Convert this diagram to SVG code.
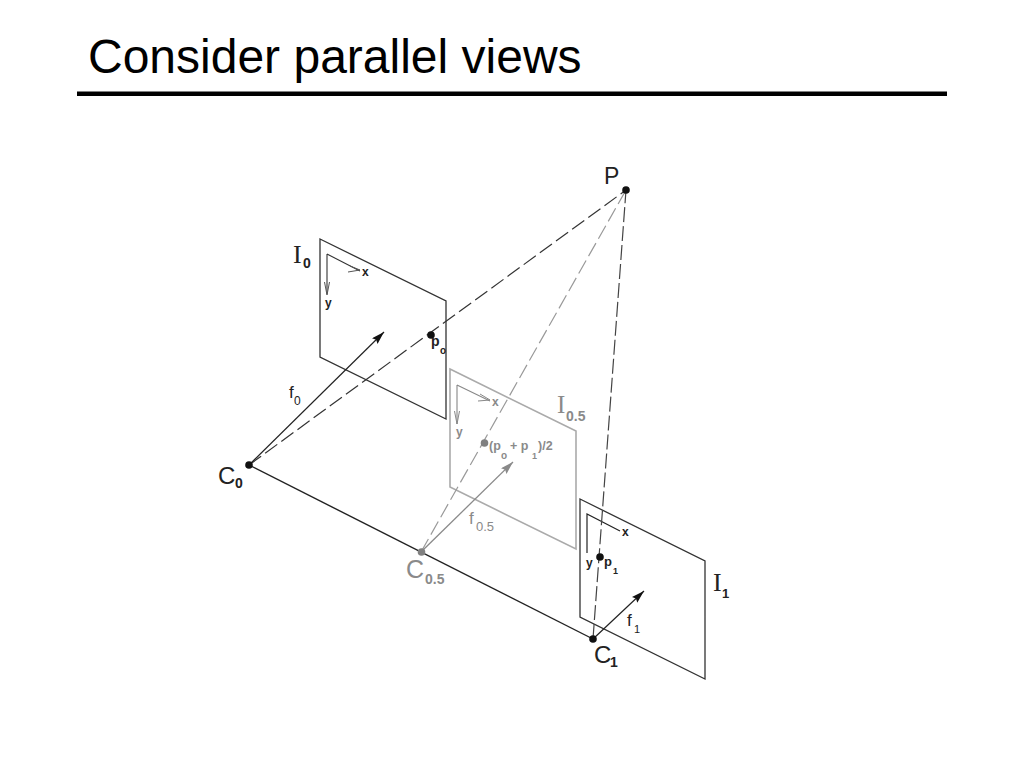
<svg xmlns="http://www.w3.org/2000/svg" width="1024" height="768" viewBox="0 0 1024 768">
<defs>
<marker id="solidK" markerUnits="userSpaceOnUse" markerWidth="14" markerHeight="10" refX="13" refY="4" orient="auto"><path d="M0 0L13 4L0 8L2 4Z" fill="#111"/></marker>
<marker id="solidG" markerUnits="userSpaceOnUse" markerWidth="14" markerHeight="10" refX="13" refY="4" orient="auto"><path d="M0 0L13 4L0 8L2 4Z" fill="#8a8a8a"/></marker>
</defs>
<style>
text{font-family:"Liberation Sans",Arial,sans-serif}
.s{font-family:"Liberation Serif","Times New Roman",serif}
.k{fill:#222}
.g{fill:#8a8a8a}
.b{font-weight:bold;font-size:12px}
.pk{fill:none;stroke:#333;stroke-width:1.3}
.pg{fill:none;stroke:#aaa;stroke-width:1.6}
</style>
<rect width="1024" height="768" fill="#fff"/>
<g id="title">
<text x="88" y="73" font-size="48" fill="#000">Consider parallel views</text>
<rect x="77" y="91.500" width="870" height="4.500" fill="#000"/>
</g>
<g id="plane-I05">
<path class="pg" d="M450 369L576 431V549L450 487Z"/>
<path d="M457 385V424M457 385L490 401" fill="none" stroke="#888" stroke-width="1.1"/>
<path d="M454.500 411L457 424L459.500 411M480 394L490 400L478 401" fill="none" stroke="#888"/>
<text class="b g" x="492" y="406">x</text>
<text class="b g" x="456" y="436">y</text>
<text class="s g" x="557" y="413" font-size="25">I</text>
<text class="g" x="566" y="421" font-size="14" font-weight="bold">0.5</text>
</g>
<g id="plane-I0">
<path class="pk" d="M320 239L446 301V419L320 357Z"/>
<path d="M327 254V294M327 254L360 271" fill="none" stroke="#333" stroke-width="1.1"/>
<path d="M324.500 282L327 295L329.500 282M350 266L360 270L348 272" fill="none" stroke="#555"/>
<text class="b k" x="362" y="276">x</text>
<text class="b k" x="325" y="307">y</text>
<text class="s k" x="293" y="263" font-size="26">I</text>
<text class="k" x="303" y="268" font-size="14" font-weight="bold">0</text>
</g>
<g id="plane-I1">
<path class="pk" d="M580 499L705 561V679L580 617Z"/>
<path d="M587 553V514L620 531" fill="none" stroke="#222" stroke-width="1.2"/>
<text class="b k" x="622" y="536">x</text>
<text class="b k" x="586" y="567">y</text>
<text class="s k" x="713" y="591" font-size="26">I</text>
<text class="k" x="722" y="598" font-size="13" font-weight="bold">1</text>
</g>
<g id="connectors">
<path d="M249 465L593 639" fill="none" stroke="#222" stroke-width="1.4"/>
<path d="M249 465L626 190" fill="none" stroke="#333" stroke-width="1.2" stroke-dasharray="15 5"/>
<path d="M421 552L626 190" fill="none" stroke="#999" stroke-width="1.2" stroke-dasharray="15 5"/>
<path d="M593 639L626 190" fill="none" stroke="#444" stroke-width="1.2" stroke-dasharray="15 4"/>
<path d="M249 465L384 332" fill="none" stroke="#222" stroke-width="1.2" marker-end="url(#solidK)"/>
<path d="M421 552L513 462" fill="none" stroke="#8a8a8a" stroke-width="1.3" marker-end="url(#solidG)"/>
<path d="M593 639L644 591" fill="none" stroke="#222" stroke-width="1.2" marker-end="url(#solidK)"/>
</g>
<g id="point-P"><circle cx="626" cy="190" r="3.800" fill="#111"/><text class="k" x="604" y="184" font-size="23">P</text></g>
<g id="point-p0"><circle cx="431" cy="335" r="3.800" fill="#111"/><text class="k" x="431" y="346" font-size="14" font-weight="bold">p</text><text class="k" x="440" y="354" font-size="10" font-weight="bold">o</text></g>
<g id="point-p05"><circle cx="484.500" cy="443" r="3.800" fill="#808080"/>
<text class="g" x="489" y="450" font-size="12.500" font-weight="bold">(p</text><text class="g" x="501" y="459" font-size="10" font-weight="bold">o</text><text class="g" x="510" y="450" font-size="12.500" font-weight="bold">+ p</text><text class="g" x="532" y="459" font-size="9" font-weight="bold">1</text><text class="g" x="538" y="450" font-size="12.500" font-weight="bold">)/2</text></g>
<g id="point-p1"><circle cx="600" cy="557" r="3.800" fill="#111"/><text class="k" x="604" y="566" font-size="13" font-weight="bold">p</text><text class="k" x="613" y="574" font-size="9" font-weight="bold">1</text></g>
<g id="point-C0"><circle cx="249" cy="465" r="3.800" fill="#111"/><text class="k" x="218" y="484" font-size="24">C</text><text class="k" x="235" y="488" font-size="14" font-weight="bold">0</text></g>
<g id="point-C05"><circle cx="421.500" cy="552" r="3.800" fill="#808080"/><text class="g" x="406" y="578" font-size="25">C</text><text class="g" x="425" y="584" font-size="14" font-weight="bold">0.5</text></g>
<g id="point-C1"><circle cx="593" cy="639" r="3.800" fill="#111"/><text class="k" x="594" y="663" font-size="24">C</text><text class="k" x="610" y="667" font-size="14" font-weight="bold">1</text></g>
<g id="label-f0"><text class="k" x="289" y="398" font-size="17">f</text><text class="k" x="294" y="405" font-size="12">0</text></g>
<g id="label-f05"><text class="g" x="469" y="524" font-size="17">f</text><text class="g" x="476" y="531" font-size="13">0.5</text></g>
<g id="label-f1"><text class="k" x="627" y="626" font-size="17">f</text><text class="k" x="634" y="633" font-size="11">1</text></g>
</svg>
